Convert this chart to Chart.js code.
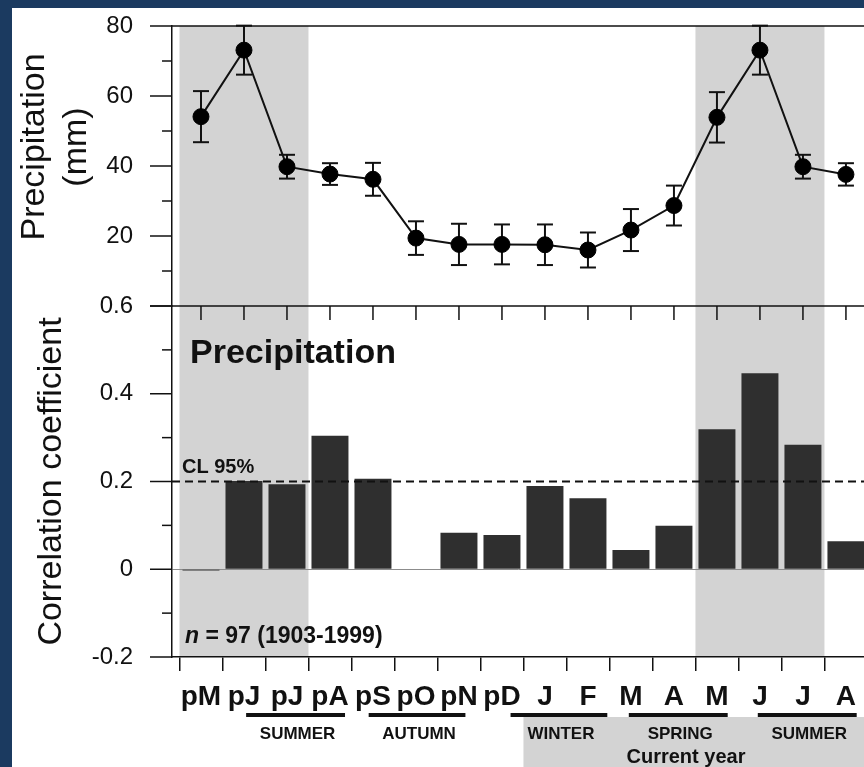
<!DOCTYPE html>
<html>
<head>
<meta charset="utf-8">
<script src="https://cdn.jsdelivr.net/npm/chart.js@4.4.1/dist/chart.umd.min.js"></script>
<style>
  html, body { margin: 0; padding: 0; background: #1b3a60; overflow: hidden; }
  #wrap { position: absolute; left: 12px; top: 8px; width: 852px; height: 759px; background: #fff; }
</style>
</head>
<body>
<div id="wrap"><canvas id="chart"></canvas></div>
<script>
// months from previous May (p*) to current August
const months = ['pM', 'pJ', 'pJ', 'pA', 'pS', 'pO', 'pN', 'pD', 'J', 'F', 'M', 'A', 'M', 'J', 'J', 'A'];
const precip = [54.1, 73.1, 39.8, 37.7, 36.2, 19.4, 17.6, 17.6, 17.5, 16.0, 21.7, 28.7, 53.9, 73.1, 39.8, 37.6];
const precipErr = [7.3, 7.0, 3.4, 3.1, 4.7, 4.8, 5.9, 5.7, 5.8, 5.0, 6.0, 5.7, 7.2, 7.0, 3.4, 3.2];
const corr = [-0.003, 0.201, 0.194, 0.304, 0.206, 0, 0.083, 0.078, 0.190, 0.162, 0.044, 0.099, 0.319, 0.447, 0.284, 0.064];
const precipTicks = [0, 20, 40, 60, 80];
const precipTickLabels = ['', '20', '40', '60', '80'];
const corrTicks = [-0.2, 0, 0.2, 0.4, 0.6];
const corrTickLabels = ['-0.2', '0', '0.2', '0.4', '0.6'];
const confLimit = 0.2;

// shaded May-July windows, in month index units
const shaded = [[-0.5, 2.5], [11.5, 14.5]];
const seasons = [
  { name: 'SUMMER', from: 1.05, to: 3.35 },
  { name: 'AUTUMN', from: 3.9, to: 6.15 },
  { name: 'WINTER', from: 7.2, to: 9.45 },
  { name: 'SPRING', from: 9.95, to: 12.25 },
  { name: 'SUMMER', from: 12.95, to: 15.25 }
];

const INK = '#111';
const SHADE = '#d3d3d3';
const FAM = '"Liberation Sans", Arial, sans-serif';

function seg(ctx, x1, y1, x2, y2) {
  ctx.beginPath();
  ctx.moveTo(x1, y1);
  ctx.lineTo(x2, y2);
  ctx.stroke();
}

// keep the label padding from pushing the plot area around
function noPadding(s) {
  s.paddingLeft = 0;
  s.paddingRight = 0;
  s.paddingTop = 0;
  s.paddingBottom = 0;
}

const decor = {
  id: 'decor',
  beforeDraw(chart) {
    const { ctx, chartArea: a, scales: { x } } = chart;
    ctx.save();
    ctx.fillStyle = SHADE;
    shaded.forEach(([from, to]) => {
      const x0 = x.getPixelForValue(from);
      const x1 = x.getPixelForValue(to);
      ctx.fillRect(x0, a.top, x1 - x0, a.bottom - a.top);
    });
    // "current year" box under the labels
    const gx = x.getPixelForValue(7.5);
    ctx.fillRect(gx, a.bottom + 60, chart.width - gx, chart.height - a.bottom - 60);
    ctx.restore();
  },
  beforeDatasetsDraw(chart) {
    const { ctx, scales: { x, yP } } = chart;
    ctx.save();
    ctx.strokeStyle = INK;
    ctx.lineWidth = 2;
    precip.forEach((v, i) => {
      const px = x.getPixelForValue(i);
      const top = yP.getPixelForValue(v + precipErr[i]);
      const bot = yP.getPixelForValue(v - precipErr[i]);
      seg(ctx, px, top, px, bot);
      seg(ctx, px - 8, top, px + 8, top);
      seg(ctx, px - 8, bot, px + 8, bot);
    });
    ctx.restore();
  },
  afterDraw(chart) {
    const { ctx, chartArea: a, scales: { x, yP, yC } } = chart;
    ctx.save();
    ctx.strokeStyle = INK;
    ctx.fillStyle = INK;
    ctx.lineWidth = 1.5;

    // frame lines at the top and between the panels
    seg(ctx, a.left, yP.top, chart.width, yP.top);
    seg(ctx, a.left, yC.top, chart.width, yC.top);

    // y tick marks, major and minor
    [[yP, precipTicks], [yC, corrTicks]].forEach(([s, vals]) => {
      vals.forEach((v, i) => {
        const py = s.getPixelForValue(v);
        seg(ctx, a.left - 22, py, a.left, py);
        if (i > 0) {
          const my = s.getPixelForValue((v + vals[i - 1]) / 2);
          seg(ctx, a.left - 10, my, a.left, my);
        }
      });
    });

    // month ticks hanging below the panel boundary
    months.forEach((m, i) => {
      const px = x.getPixelForValue(i);
      seg(ctx, px, yC.top, px, yC.top + 14);
    });

    // 95% confidence limit
    const cy = yC.getPixelForValue(confLimit);
    ctx.lineWidth = 2;
    ctx.setLineDash([8, 5]);
    seg(ctx, a.left, cy, chart.width, cy);
    ctx.setLineDash([]);

    ctx.textAlign = 'left';
    ctx.textBaseline = 'alphabetic';
    ctx.font = 'bold 20px ' + FAM;
    ctx.fillText('CL 95%', a.left + 10, cy - 9);

    ctx.font = 'bold 34px ' + FAM;
    ctx.fillText('Precipitation', a.left + 18, yC.top + 57);

    ctx.font = 'italic bold 23px ' + FAM;
    ctx.fillText('n', a.left + 13, a.bottom - 14);
    const nw = ctx.measureText('n').width;
    ctx.font = 'bold 23px ' + FAM;
    ctx.fillText(' = 97 (1903-1999)', a.left + 13 + nw, a.bottom - 14);

    // upper panel axis title
    ctx.save();
    ctx.translate(23, 139);
    ctx.rotate(-Math.PI / 2);
    ctx.textAlign = 'center';
    ctx.textBaseline = 'middle';
    ctx.font = '34px ' + FAM;
    ctx.fillText('Precipitation', 0, 0);
    ctx.fillText('(mm)', 0, 42);
    ctx.restore();

    // season brackets
    ctx.lineWidth = 4;
    ctx.textAlign = 'center';
    ctx.textBaseline = 'middle';
    ctx.font = 'bold 17px ' + FAM;
    seasons.forEach(s => {
      const x0 = x.getPixelForValue(s.from);
      const x1 = x.getPixelForValue(s.to);
      seg(ctx, x0, a.bottom + 58, x1, a.bottom + 58);
      ctx.fillText(s.name, (x0 + x1) / 2 + 2, a.bottom + 77);
    });
    ctx.font = 'bold 20px ' + FAM;
    ctx.fillText('Current year', x.getPixelForValue(11.28), a.bottom + 100);
    ctx.restore();
  }
};

const tickFont = { family: FAM, size: 24 };

new Chart(document.getElementById('chart'), {
  type: 'bar',
  data: {
    datasets: [
      {
        type: 'line',
        data: precip.map((v, i) => ({ x: i, y: v })),
        xAxisID: 'x',
        yAxisID: 'yP',
        borderColor: INK,
        borderWidth: 2,
        tension: 0,
        pointRadius: 8,
        pointBorderWidth: 1,
        pointBackgroundColor: '#000',
        pointBorderColor: '#000'
      },
      {
        type: 'bar',
        data: corr.map((v, i) => ({ x: i, y: v })),
        xAxisID: 'x',
        yAxisID: 'yC',
        backgroundColor: '#2f2f2f',
        borderWidth: 0,
        categoryPercentage: 0.86,
        barPercentage: 1
      }
    ]
  },
  options: {
    responsive: true,
    maintainAspectRatio: false,
    animation: false,
    layout: { autoPadding: false, padding: { top: 18, left: 0, right: 0, bottom: 0 } },
    plugins: {
      legend: { display: false },
      tooltip: { enabled: false }
    },
    scales: {
      x: {
        type: 'linear',
        position: 'bottom',
        min: -0.674,
        max: 15.42,
        offset: false,
        afterBuildTicks: s => { s.ticks = months.map((m, i) => ({ value: i })); },
        afterFit: s => { s.height = 110; noPadding(s); },
        ticks: {
          callback: (v, i) => months[i],
          font: { family: FAM, size: 28, weight: 'bold' },
          color: INK,
          padding: 9,
          maxRotation: 0,
          autoSkip: false
        },
        grid: { drawOnChartArea: false, tickLength: 14, color: INK, lineWidth: 1.5 },
        border: { color: INK, width: 1.5 }
      },
      // lower panel first: the later stacked axis ends up on top
      yC: {
        type: 'linear',
        position: 'left',
        stack: 'panels',
        stackWeight: 351,
        min: -0.2,
        max: 0.6,
        afterBuildTicks: s => { s.ticks = corrTicks.map(v => ({ value: v })); },
        afterFit: s => { s.width = 160; noPadding(s); },
        ticks: { callback: (v, i) => corrTickLabels[i], font: tickFont, color: INK, padding: 39 },
        grid: {
          drawTicks: false,
          lineWidth: 1,
          color: c => (c.tick && c.tick.value === 0 ? '#8c8c8c' : 'rgba(0,0,0,0)')
        },
        border: { color: INK, width: 1.5 },
        title: {
          display: true,
          text: 'Correlation coefficient',
          font: { family: FAM, size: 34 },
          color: INK,
          padding: { top: 19, bottom: 0 }
        }
      },
      yP: {
        type: 'linear',
        position: 'left',
        stack: 'panels',
        stackWeight: 280,
        min: 0,
        max: 80,
        afterBuildTicks: s => { s.ticks = precipTicks.map(v => ({ value: v })); },
        afterFit: s => { s.width = 160; noPadding(s); },
        ticks: { callback: (v, i) => precipTickLabels[i], font: tickFont, color: INK, padding: 39 },
        grid: { display: false, drawTicks: false },
        border: { color: INK, width: 1.5 }
      }
    }
  },
  plugins: [decor]
});
</script>
</body>
</html>
